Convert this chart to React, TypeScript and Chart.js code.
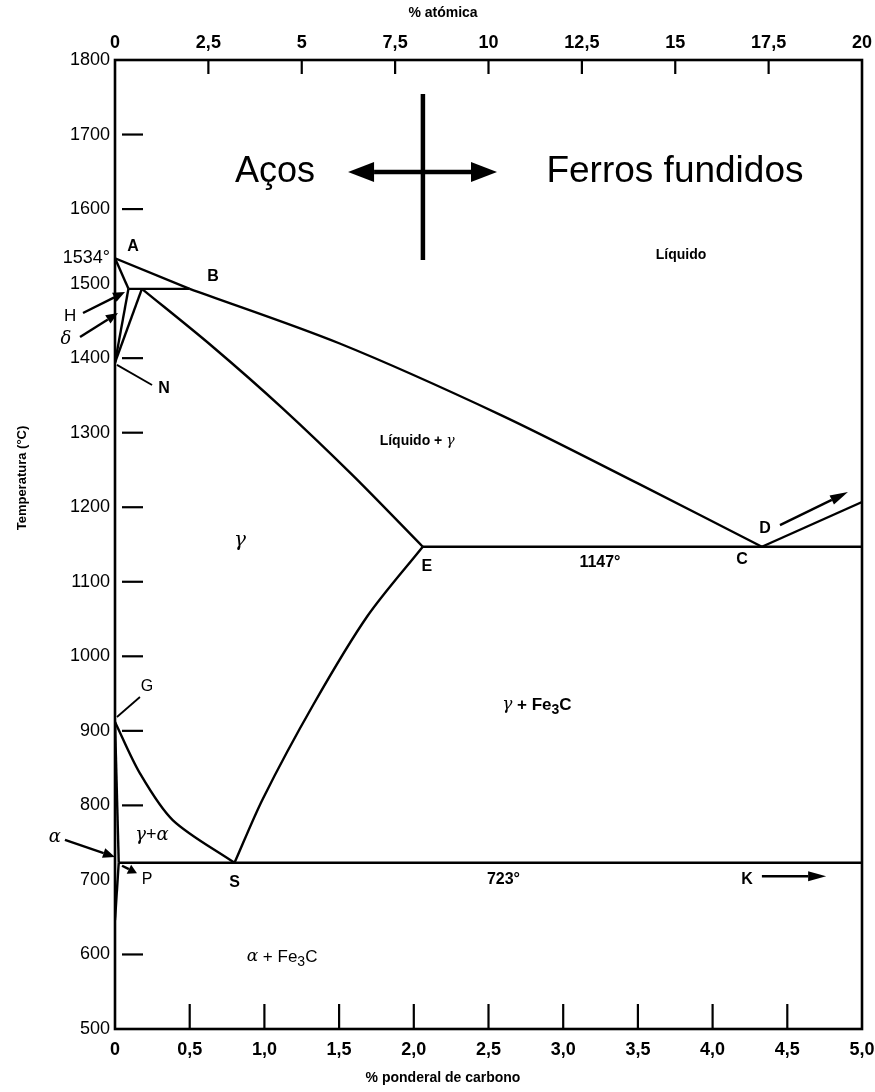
import React, { useEffect, useRef } from 'react';
import { Chart, registerables } from 'chart.js';

Chart.register(...registerables);

// Axis ranges and tick values
const wtTicks = [0, 0.5, 1, 1.5, 2, 2.5, 3, 3.5, 4, 4.5, 5];
const atTicks = [0, 2.5, 5, 7.5, 10, 12.5, 15, 17.5, 20];
const tempTicks = [500, 600, 700, 800, 900, 1000, 1100, 1200, 1300, 1400, 1500, 1534, 1600, 1700, 1800];
const innerTempTicks = [600, 800, 900, 1000, 1100, 1200, 1300, 1400, 1600, 1700];

// Phase boundaries, as [wt% C, °C]
const liquidusAB = [[0, 1534], [0.5, 1493]];
const liquidusBC = [[0.5, 1493], [1.5, 1420], [2.58, 1324], [3.5, 1232], [4.33, 1147]];
const peritecticHJB = [[0.09, 1493], [0.5, 1493]];
const deltaAH = [[0, 1534], [0.09, 1493]];
const deltaNH = [[0, 1394], [0.09, 1493]];
const gammaNJ = [[0, 1394], [0.18, 1493]];
const solidusJE = [[0.18, 1493], [0.65, 1416], [1.12, 1333], [1.59, 1243], [2.06, 1147]];
const eutecticECF = [[2.06, 1147], [5, 1147]];
const liquidusCD = [[4.33, 1147], [5, 1207]];
const acmSE = [[0.8, 723], [0.99, 809], [1.33, 936], [1.69, 1054], [2.06, 1147]];
const a3GS = [[0, 912], [0.167, 843], [0.388, 780], [0.8, 723]];
const alphaGP = [[0, 912], [0.025, 723]];
const alphaPQ = [[0, 646], [0.025, 723]];
const eutectoidPSK = [[0.025, 723], [5, 723]];

const boundaries = [
  { pts: liquidusAB, curved: false },
  { pts: liquidusBC, curved: true },
  { pts: peritecticHJB, curved: false },
  { pts: deltaAH, curved: false },
  { pts: deltaNH, curved: false },
  { pts: gammaNJ, curved: false },
  { pts: solidusJE, curved: true },
  { pts: eutecticECF, curved: false },
  { pts: liquidusCD, curved: false },
  { pts: acmSE, curved: true },
  { pts: a3GS, curved: true },
  { pts: alphaGP, curved: false },
  { pts: alphaPQ, curved: false },
  { pts: eutectoidPSK, curved: false },
];

// Arrows and leader lines, in [wt% C, °C]
const arrows = [
  { from: [-0.214, 1460.6], to: [0.067, 1488.8], w: 2.4, head: 12, hw: 5 }, // H
  { from: [-0.234, 1428.4], to: [0.02, 1460.6], w: 2.4, head: 12, hw: 5 }, // δ
  { from: [-0.335, 753.6], to: [0, 730.8], w: 2.4, head: 12, hw: 5 }, // α
  { from: [0.047, 719], to: [0.147, 709], w: 2.4, head: 9, hw: 5 }, // P
  { from: [4.451, 1176], to: [4.906, 1220.4], w: 2.4, head: 18, hw: 5 }, // D
  { from: [4.33, 705], to: [4.76, 705], w: 2.4, head: 18, hw: 5 }, // K
  { from: [2.061, 1649.7], to: [1.56, 1649.7], w: 4.5, head: 26, hw: 10 }, // aços
  { from: [2.061, 1649.7], to: [2.557, 1649.7], w: 4.5, head: 26, hw: 10 }, // ferros fundidos
];
const leaders = [
  { from: [0.013, 1391], to: [0.248, 1364], w: 1.8 }, // N
  { from: [0.013, 918.6], to: [0.167, 945.4], w: 1.8 }, // G
  { from: [2.061, 1754.4], to: [2.061, 1531.7], w: 4.5 }, // divider
];

type Run = { t: string; sub?: boolean; italic?: boolean };
const SANS = "'Liberation Sans', Arial, sans-serif";
const SERIF = "'DejaVu Serif', serif";

const labels: { at: [number, number]; runs: Run[]; size: number; bold?: boolean }[] = [
  { at: [0.12, 1549], runs: [{ t: 'A' }], size: 16, bold: true },
  { at: [0.656, 1510], runs: [{ t: 'B' }], size: 16, bold: true },
  { at: [-0.301, 1456.6], runs: [{ t: 'H' }], size: 17 },
  { at: [-0.328, 1425.7], runs: [{ t: 'δ', italic: true }], size: 18 },
  { at: [0.328, 1358.6], runs: [{ t: 'N' }], size: 16, bold: true },
  { at: [1.071, 1649.7], runs: [{ t: 'Aços' }], size: 36 },
  { at: [3.748, 1649.7], runs: [{ t: 'Ferros fundidos' }], size: 37 },
  { at: [3.789, 1538.4], runs: [{ t: 'Líquido' }], size: 14, bold: true },
  { at: [2.022, 1288], runs: [{ t: 'Líquido + ' }, { t: 'γ', italic: true }], size: 14, bold: true },
  { at: [0.837, 1155], runs: [{ t: 'γ', italic: true }], size: 20 },
  { at: [2.088, 1120], runs: [{ t: 'E' }], size: 16, bold: true },
  { at: [3.246, 1125.2], runs: [{ t: '1147°' }], size: 16, bold: true },
  { at: [4.197, 1129.2], runs: [{ t: 'C' }], size: 16, bold: true },
  { at: [4.351, 1172], runs: [{ t: 'D' }], size: 16, bold: true },
  { at: [2.824, 934.7], runs: [{ t: 'γ', italic: true }, { t: ' + Fe' }, { t: '3', sub: true }, { t: 'C' }], size: 17, bold: true },
  { at: [0.214, 958.8], runs: [{ t: 'G' }], size: 16 },
  { at: [0.248, 760], runs: [{ t: 'γ', italic: true }, { t: '+' }, { t: 'α', italic: true }], size: 18 },
  { at: [-0.402, 757.6], runs: [{ t: 'α', italic: true }], size: 18 },
  { at: [0.214, 700], runs: [{ t: 'P' }], size: 16 },
  { at: [0.8, 697], runs: [{ t: 'S' }], size: 16, bold: true },
  { at: [2.6, 700], runs: [{ t: '723°' }], size: 16, bold: true },
  { at: [4.23, 700], runs: [{ t: 'K' }], size: 16, bold: true },
  { at: [1.118, 596.6], runs: [{ t: 'α', italic: true }, { t: ' + Fe' }, { t: '3', sub: true }, { t: 'C' }], size: 17 },
];

function fontFor(r: Run, size: number, bold?: boolean) {
  const s = r.sub ? Math.round(size * 0.8) : size;
  if (r.italic) return `italic ${s}px ${SERIF}`;
  return `${bold ? 'bold ' : ''}${s}px ${SANS}`;
}

function drawRuns(ctx: CanvasRenderingContext2D, runs: Run[], cx: number, cy: number, size: number, bold?: boolean) {
  let total = 0;
  const widths = runs.map((r) => {
    ctx.font = fontFor(r, size, bold);
    const w = ctx.measureText(r.t).width;
    total += w;
    return w;
  });
  let x = cx - total / 2;
  ctx.textAlign = 'left';
  ctx.textBaseline = 'middle';
  runs.forEach((r, i) => {
    ctx.font = fontFor(r, size, bold);
    ctx.fillText(r.t, x, cy + (r.sub ? size * 0.3 : 0));
    x += widths[i];
  });
}

function drawArrow(ctx: CanvasRenderingContext2D, x1: number, y1: number, x2: number, y2: number, w: number, head: number, hw: number) {
  const ang = Math.atan2(y2 - y1, x2 - x1);
  const bx = x2 - Math.cos(ang) * head;
  const by = y2 - Math.sin(ang) * head;
  ctx.lineWidth = w;
  ctx.beginPath();
  ctx.moveTo(x1, y1);
  ctx.lineTo(bx, by);
  ctx.stroke();
  ctx.beginPath();
  ctx.moveTo(x2, y2);
  ctx.lineTo(bx + Math.sin(ang) * hw, by - Math.cos(ang) * hw);
  ctx.lineTo(bx - Math.sin(ang) * hw, by + Math.cos(ang) * hw);
  ctx.closePath();
  ctx.fill();
}

const diagramDecor = {
  id: 'diagramDecor',
  afterDatasetsDraw(chart: any) {
    const { ctx, chartArea: a, scales } = chart;
    const xs = scales.x;
    const ys = scales.y;
    const px = (v: number) => xs.getPixelForValue(v);
    const py = (v: number) => ys.getPixelForValue(v);
    ctx.save();
    ctx.strokeStyle = '#000';
    ctx.fillStyle = '#000';
    ctx.lineCap = 'butt';

    // frame
    ctx.lineWidth = 2.6;
    ctx.strokeRect(a.left, a.top, a.right - a.left, a.bottom - a.top);

    // inner tick marks
    ctx.lineWidth = 2.2;
    innerTempTicks.forEach((t) => {
      ctx.beginPath();
      ctx.moveTo(a.left + 7, py(t));
      ctx.lineTo(a.left + 28, py(t));
      ctx.stroke();
    });
    wtTicks.slice(1, -1).forEach((v) => {
      ctx.beginPath();
      ctx.moveTo(px(v), a.bottom);
      ctx.lineTo(px(v), a.bottom - 25);
      ctx.stroke();
    });
    const xt = scales.x2;
    atTicks.slice(1, -1).forEach((v) => {
      ctx.beginPath();
      ctx.moveTo(xt.getPixelForValue(v), a.top);
      ctx.lineTo(xt.getPixelForValue(v), a.top + 14);
      ctx.stroke();
    });

    // leader lines and arrows
    leaders.forEach((l) => {
      ctx.lineWidth = l.w;
      ctx.beginPath();
      ctx.moveTo(px(l.from[0]), py(l.from[1]));
      ctx.lineTo(px(l.to[0]), py(l.to[1]));
      ctx.stroke();
    });
    arrows.forEach((r) => {
      drawArrow(ctx, px(r.from[0]), py(r.from[1]), px(r.to[0]), py(r.to[1]), r.w, r.head, r.hw);
    });

    // region and point labels
    labels.forEach((l) => drawRuns(ctx, l.runs, px(l.at[0]), py(l.at[1]), l.size, l.bold));

    // axis titles
    ctx.textAlign = 'center';
    ctx.textBaseline = 'middle';
    ctx.font = `bold 14px ${SANS}`;
    ctx.fillText('% atómica', 443, 13);
    ctx.fillText('% ponderal de carbono', 443, 1078);
    ctx.save();
    ctx.translate(22, 478);
    ctx.rotate(-Math.PI / 2);
    ctx.font = `bold 13px ${SANS}`;
    ctx.fillText('Temperatura (°C)', 0, 0);
    ctx.restore();
    ctx.restore();
  },
};

const fmtWt = (v: number) => (v === 0 ? '0' : v.toFixed(1).replace('.', ','));
const fmtAt = (v: number) => String(v).replace('.', ',');

export default function App() {
  const ref = useRef<HTMLCanvasElement>(null);
  useEffect(() => {
    if (!ref.current) return;
    const chart = new Chart(ref.current, {
      type: 'line',
      data: {
        datasets: boundaries.map((b) => ({
          data: b.pts.map(([x, y]) => ({ x, y })),
          borderColor: '#000',
          borderWidth: 2.4,
          pointRadius: 0,
          fill: false,
          tension: b.curved ? 0.3 : 0,
        })),
      },
      options: {
        responsive: false,
        animation: false,
        events: [],
        layout: { padding: { left: 0, right: 13, top: 0, bottom: 0 } },
        plugins: { legend: { display: false }, tooltip: { enabled: false }, title: { display: false } },
        scales: {
          x: {
            type: 'linear',
            position: 'bottom',
            min: 0,
            max: 5,
            grid: { display: false, drawTicks: false },
            border: { display: false },
            afterBuildTicks: (s: any) => { s.ticks = wtTicks.map((value) => ({ value })); },
            afterFit: (s: any) => { s.height = 63; s.paddingLeft = 0; s.paddingRight = 0; },
            ticks: {
              autoSkip: false,
              maxRotation: 0,
              padding: 10,
              color: '#000',
              font: { family: SANS, size: 18, weight: 'bold' },
              callback: (v: any) => fmtWt(Number(v)),
            },
          },
          x2: {
            type: 'linear',
            position: 'top',
            min: 0,
            max: 20,
            grid: { display: false, drawTicks: false },
            border: { display: false },
            afterBuildTicks: (s: any) => { s.ticks = atTicks.map((value) => ({ value })); },
            afterFit: (s: any) => { s.height = 60; s.paddingLeft = 0; s.paddingRight = 0; },
            ticks: {
              autoSkip: false,
              maxRotation: 0,
              padding: 6,
              color: '#000',
              font: { family: SANS, size: 18, weight: 'bold' },
              callback: (v: any) => fmtAt(Number(v)),
            },
          },
          y: {
            type: 'linear',
            position: 'left',
            min: 500,
            max: 1800,
            grid: { display: false, drawTicks: false },
            border: { display: false },
            afterBuildTicks: (s: any) => { s.ticks = tempTicks.map((value) => ({ value })); },
            afterFit: (s: any) => { s.width = 115; s.paddingTop = 0; s.paddingBottom = 0; },
            ticks: {
              autoSkip: false,
              padding: 5,
              color: '#000',
              font: { family: SANS, size: 18 },
              callback: (v: any) => (Number(v) === 1534 ? '1534°' : String(v)),
            },
          },
        },
      },
      plugins: [diagramDecor],
    } as any);
    return () => chart.destroy();
  }, []);
  return (
    <div style={{ position: 'absolute', left: 0, top: 0, width: 875, height: 1092, background: '#fff' }}>
      <canvas ref={ref} width={875} height={1092} style={{ display: 'block' }} />
    </div>
  );
}
